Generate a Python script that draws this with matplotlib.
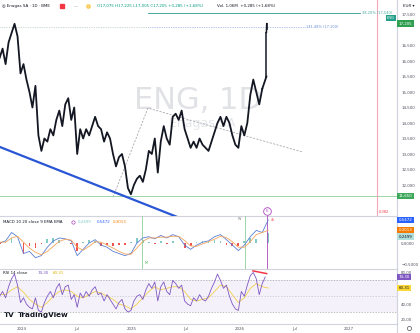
import matplotlib
matplotlib.use("Agg")
import matplotlib.pyplot as plt
import pandas as pd

# ---- values (approximate) ----
price_start = "2023-10-18"   # closes sampled every 10 days
price_close = [16.1, 16.4, 15.9, 16.6, 16.9, 17.2, 16.8, 15.6, 15.9, 15.4,
               15.0, 14.5, 15.2, 13.6, 13.1, 13.5, 13.4, 13.8, 13.6, 14.1,
               14.4, 13.9, 14.6, 14.8, 14.1, 14.5, 13.0, 13.8, 13.5, 13.8,
               13.6, 13.9, 14.2, 13.9, 13.8, 13.4, 13.7, 13.5, 13.0, 12.6,
               12.9, 13.0, 12.6, 11.9, 11.7, 12.0, 12.2, 12.3, 12.1, 12.5,
               13.1, 13.0, 13.5, 12.4, 13.4, 13.9, 13.5, 13.3, 14.2, 14.3,
               14.1, 14.4, 13.8, 13.5, 13.2, 13.4, 13.2, 13.5, 13.3, 13.2,
               13.1, 13.4, 13.7, 14.0, 14.2, 13.9, 14.2, 14.0, 13.6, 13.3,
               13.2, 13.9, 13.6, 14.0, 14.9, 15.4, 15.0, 14.6, 15.1]

# the last two daily bars
bar_dates = ["2026-03-30", "2026-03-31"]
bar_open = [15.50, 17.075]
bar_high = [16.95, 17.225]
bar_low = [15.45, 17.005]
bar_close = [16.92, 17.205]

macd_start = "2023-10-18"    # every 20 days
macd_line = [0.0, 0.05, 0.25, 0.15, -0.25, -0.2, -0.35, -0.3, -0.1, 0.05,
             0.12, 0.1, 0.05, -0.3, -0.15, 0.0, 0.08, -0.05, -0.1, -0.2,
             -0.25, -0.3, -0.25, 0.0, 0.12, 0.15, 0.1, 0.18, 0.12, 0.2,
             0.15, -0.05, -0.15, -0.05, 0.02, 0.05, 0.15, 0.2, 0.08, -0.05,
             -0.18, -0.05, 0.15, 0.3, 0.25, 0.547]
macd_signal = [0.02, 0.02, 0.12, 0.16, 0.02, -0.12, -0.22, -0.28, -0.2, -0.08,
               0.04, 0.09, 0.07, -0.1, -0.17, -0.08, 0.03, 0.02, -0.05, -0.12,
               -0.2, -0.26, -0.27, -0.12, 0.04, 0.12, 0.12, 0.14, 0.14, 0.16,
               0.16, 0.06, -0.07, -0.08, -0.02, 0.03, 0.09, 0.16, 0.13, 0.03,
               -0.1, -0.1, 0.03, 0.2, 0.25, 0.301]

rsi_start = "2023-10-18"     # every 10 days
rsi_line = [50, 56, 48, 62, 72, 78, 64, 42, 48, 40,
            36, 34, 48, 32, 30, 42, 50, 56, 48, 60,
            66, 52, 62, 64, 46, 52, 36, 54, 48, 56,
            50, 58, 62, 52, 54, 44, 52, 46, 40, 34,
            42, 46, 34, 30, 32, 44, 50, 52, 46, 58,
            66, 60, 68, 44, 62, 68, 56, 52, 70, 66,
            60, 64, 44, 40, 38, 48, 44, 52, 46, 44,
            50, 60, 68, 78, 70, 60, 64, 50, 40, 34,
            32, 56, 50, 64, 76, 80, 72, 52, 66, 74.3]
rsi_ma = [52, 52, 58, 62, 55, 46, 40, 36, 42, 50,        # every 20 days
          56, 58, 56, 50, 48, 52, 56, 54, 50, 46,
          40, 38, 34, 40, 48, 56, 62, 58, 60, 62,
          62, 56, 46, 44, 46, 48, 56, 64, 62, 52,
          42, 48, 60, 66, 62, 60.31]

# drawings
trend_dates = ["2023-10-18", "2025-07-16"]
trend_vals = [13.23, 10.81]
zigzag_dates = ["2024-11-01", "2025-02-26", "2026-07-30"]
zigzag_vals = [11.61, 14.48, 13.06]
fib_start = "2025-02-26"
fib_382 = 17.54
fib_382_end = "2027-02-07"
fib_1414 = 17.10
fib_1414_end = "2026-08-05"
support = 11.65
pink_date = "2027-04-05"
green_marks = ["2025-02-06", "2026-01-17"]
event_date = "2026-03-31"
div_dates = ["2026-02-13", "2026-03-31"]
div_vals = [82.0, 78.6]

price_ticks = [17.5, 16.5, 16.0, 15.5, 15.0, 14.5, 14.0, 13.5, 13.0, 12.5, 12.0]
time_ticks = ["2024-01-01", "2024-07-01", "2025-01-01", "2025-07-01",
              "2026-01-01", "2026-07-01", "2027-01-01"]
time_labels = ["2024", "Jul", "2025", "Jul", "2026", "Jul", "2027"]

# ---- layout in pixels ----
W, H = 420, 333
def box(x0, y0, x1, y1):
    return [x0 / W, 1 - y1 / H, (x1 - x0) / W, (y1 - y0) / H]

fig = plt.figure(figsize=(4.2, 3.33), dpi=100)
fig.patch.set_facecolor("white")
bg = fig.add_axes([0, 0, 1, 1])
bg.set_xlim(0, W)
bg.set_ylim(H, 0)
bg.axis("off")

ax_p = fig.add_axes(box(0, 0, 397, 216))
ax_m = fig.add_axes(box(0, 216, 397, 269))
ax_r = fig.add_axes(box(0, 269, 397, 324))

sep = "#d1d4dc"
txt = "#50535e"
fs = 2.9
day_px = 365.25 / 109
t0 = pd.Timestamp("2024-01-01")
xl = (t0 - pd.Timedelta(days=22 * day_px), t0 + pd.Timedelta(days=375 * day_px))

for ax in (ax_p, ax_m, ax_r):
    ax.set_xlim(*xl)
    ax.set_facecolor("none")
    for s in ("top", "left"):
        ax.spines[s].set_visible(False)
    for s in ("right", "bottom"):
        ax.spines[s].set_color(sep)
        ax.spines[s].set_linewidth(0.8)
    ax.yaxis.tick_right()
    ax.tick_params(axis="y", length=0, pad=3, labelsize=fs, labelcolor=txt)
    ax.tick_params(axis="x", length=0, labelbottom=False)

# ---- price pane ----
pdates = pd.date_range(price_start, periods=len(price_close), freq="10D")
ax_p.set_ylim(11.0, 17.968)
ax_p.set_yticks(price_ticks)
ax_p.set_yticklabels([f"{v:.3f}".replace(".", ",") for v in price_ticks])

ax_p.text(0.499, 0.535, "ENG, 1D", transform=ax_p.transAxes, ha="center", va="center",
          fontsize=22, color="#e0e2e6", zorder=0)
ax_p.text(0.51, 0.43, "Enagas SA", transform=ax_p.transAxes, ha="center", va="center",
          fontsize=9, color="#e4e6ea", zorder=0)

ax_p.plot(pdates, price_close, color="#131722", lw=1.3, zorder=3)
bd = pd.to_datetime(bar_dates)
ax_p.plot([pdates[-1], bd[0]], [price_close[-1], bar_open[0]], color="#131722", lw=1.3, zorder=3)
ax_p.vlines(bd, bar_low, bar_high, color="#131722", lw=1.1, zorder=3)
ax_p.plot(bd, bar_close, color="#131722", lw=1.1, zorder=3)

ax_p.plot(pd.to_datetime(trend_dates), trend_vals, color="#2a56d6", lw=1.6, zorder=4)
ax_p.plot(pd.to_datetime(zigzag_dates), zigzag_vals, color="#9598a1", lw=0.5,
          ls=(0, (3, 2)), zorder=2)
ax_p.axhline(support, color="#8fcf9a", lw=0.6, zorder=2)

fs_ = pd.Timestamp(fib_start)
ax_p.plot([fs_, pd.Timestamp(fib_382_end)], [fib_382, fib_382], color="#4aa7a3", lw=0.7)
ax_p.text(pd.Timestamp(fib_382_end) + pd.Timedelta(days=6), fib_382, "38,20% (17,540)",
          color="#4aa7a3", fontsize=2.6, va="center")
ax_p.plot([xl[0], fs_], [fib_1414, fib_1414], color="#9fb8a6", lw=0.5, ls=(0, (1, 1.5)))
ax_p.plot([fs_, pd.Timestamp(fib_1414_end)], [fib_1414, fib_1414], color="#6f8fd8",
          lw=0.5, ls=(0, (1, 1.5)))
ax_p.text(pd.Timestamp(fib_1414_end) + pd.Timedelta(days=6), fib_1414, "141,48% (17,100)",
          color="#6f8fd8", fontsize=2.6, va="center")

ax_p.axvline(pd.Timestamp(pink_date), color="#f4a7b9", lw=0.8)
ax_p.text(pd.Timestamp(pink_date) + pd.Timedelta(days=4), 11.13, "0,382",
          color="#f23645", fontsize=2.6, va="center")

ev = pd.Timestamp(event_date)
ax_p.plot([ev], [11.16], marker="o", ms=5.5, mfc="white", mec="#ab47bc", mew=0.6, zorder=6)
ax_p.text(ev, 11.16, "E", color="#ab47bc", fontsize=2.8, ha="center", va="center", zorder=7)

def tag(ax, y, s, fc, tc="white"):
    ax.annotate(s, xy=(1, y), xycoords=("axes fraction", "data"), xytext=(1.2, 0),
                textcoords="offset points", ha="left", va="center", fontsize=fs,
                color=tc, annotation_clip=False,
                bbox=dict(boxstyle="square,pad=0.3", fc=fc, ec="none"))

tag(ax_p, bar_close[-1], "17,205", "#2e9e4f")
tag(ax_p, support, "11,650", "#3ea85a")
ax_p.annotate("ENG", xy=(1, 17.39), xycoords=("axes fraction", "data"), xytext=(-1.5, 0),
              textcoords="offset points", ha="right", va="center", fontsize=2.6,
              color="white", annotation_clip=False,
              bbox=dict(boxstyle="square,pad=0.3", fc="#22a08a", ec="none"))

# ---- MACD pane ----
mdates_ = pd.date_range(macd_start, periods=len(macd_line), freq="20D")
hist = [m - s for m, s in zip(macd_line, macd_signal)]
ax_m.set_ylim(-0.619, 0.643)
ax_m.set_yticks([0.0, -0.5])
ax_m.set_yticklabels(["0,0000", "\u22120,5000"])
ax_m.bar(mdates_, hist, width=6, color=["#80cbc4" if h >= 0 else "#ef5350" for h in hist],
         zorder=2)
ax_m.plot(mdates_, macd_line, color="#5b7fd6", lw=0.6, zorder=3)
ax_m.plot(mdates_, macd_signal, color="#f5a55c", lw=0.6, zorder=3)
for d in green_marks:
    ax_m.axvline(pd.Timestamp(d), color="#8fcf9a", lw=0.6)
ax_m.text(pd.Timestamp(green_marks[0]) + pd.Timedelta(days=8), -0.5, "M",
          color="#4caf50", fontsize=2.4)
ax_m.text(pd.Timestamp(green_marks[1]) - pd.Timedelta(days=22), 0.55, "W",
          color="#787b86", fontsize=2.4)
ax_m.axvline(ev, color="#ab47bc", lw=0.6)
ax_m.text(ev + pd.Timedelta(days=15), 0.53, "4h", color="#f23645", fontsize=2.4)
tag(ax_m, macd_line[-1], "0,5472", "#2962ff")
tag(ax_m, macd_signal[-1], "0,3013", "#f57c00")
tag(ax_m, 0.15, "0,2499", "#b2dfdb", "#131722")

# ---- RSI pane ----
rdates = pd.date_range(rsi_start, periods=len(rsi_line), freq="10D")
madates = pd.date_range(rsi_start, periods=len(rsi_ma), freq="20D")
ax_r.set_ylim(14.9, 84.4)
ax_r.set_yticks([80, 40, 20])
ax_r.set_yticklabels(["80,00", "40,00", "20,00"])
ax_r.axhspan(30, 70, color="#7e57c2", alpha=0.08, lw=0)
for lv in (70, 50, 30):
    ax_r.axhline(lv, color="#9598a1", lw=0.5, ls=(0, (2, 2)),
                 alpha=0.5 if lv == 50 else 0.9)
ax_r.plot(madates, rsi_ma, color="#f2cf4a", lw=0.6)
ax_r.plot(rdates, rsi_line, color="#7e57c2", lw=0.6)
ax_r.plot(pd.to_datetime(div_dates), div_vals, color="#f23645", lw=1.1)
tag(ax_r, rsi_line[-1], "74,30", "#7e57c2")
tag(ax_r, rsi_ma[-1], "60,31", "#fdd835", "#131722")

ax_r.set_xticks(pd.to_datetime(time_ticks))
ax_r.set_xticklabels(time_labels)
ax_r.tick_params(axis="x", labelbottom=True, labelsize=fs, labelcolor=txt, pad=2.5)

# ---- texts around the panes ----
bg.text(1.5, 6, "\u25ce Enagas SA \u00b7 1D \u00b7 BME", fontsize=fs, color="#131722", va="center")
bg.plot([62], [6], marker="s", ms=2.2, color="#f23645")
bg.text(74, 6, "\u2014", fontsize=fs, color="#787b86", va="center")
bg.plot([88], [6], marker="o", ms=2.6, color="#fbc02d", alpha=0.6)
bg.text(97, 6, "O17,075 H17,225 L17,005 C17,205 +0,285 (+1,68%)", fontsize=fs,
        color="#089981", va="center")
bg.text(217, 6, "Vol. 1,06M  +0,285 (+1,68%)", fontsize=fs, color="#131722", va="center")
bg.text(403, 6, "EUR \u25be", fontsize=fs, color="#131722", va="center")
bg.plot([397, 397], [0, 333], color=sep, lw=0.8)

bg.text(3, 222, "MACD 10 20 close 9 EMA EMA", fontsize=fs, color="#131722", va="center")
bg.plot([73], [222], marker="o", ms=2.4, mfc="none", mec="#ab47bc", mew=0.5)
bg.text(78, 222, "0,2499", fontsize=fs, color="#80cbc4", va="center")
bg.text(97, 222, "0,5472", fontsize=fs, color="#2962ff", va="center")
bg.text(113, 222, "0,3013", fontsize=fs, color="#f57c00", va="center")

bg.text(3, 273, "RSI 14 close", fontsize=fs, color="#131722", va="center")
bg.text(38, 273, "74,30", fontsize=fs, color="#7e57c2", va="center")
bg.text(53, 273, "60,31", fontsize=fs, color="#e0b400", va="center")

bg.text(4, 315, "TV", fontsize=5.2, fontweight="bold", color="#131722", va="center")
bg.text(18, 315, "TradingView", fontsize=5.2, fontweight="bold", color="#131722", va="center")
bg.plot([409], [328], marker="o", ms=3, mfc="none", mec=txt, mew=0.5)

fig.savefig("out.png", dpi=100, facecolor="white")
